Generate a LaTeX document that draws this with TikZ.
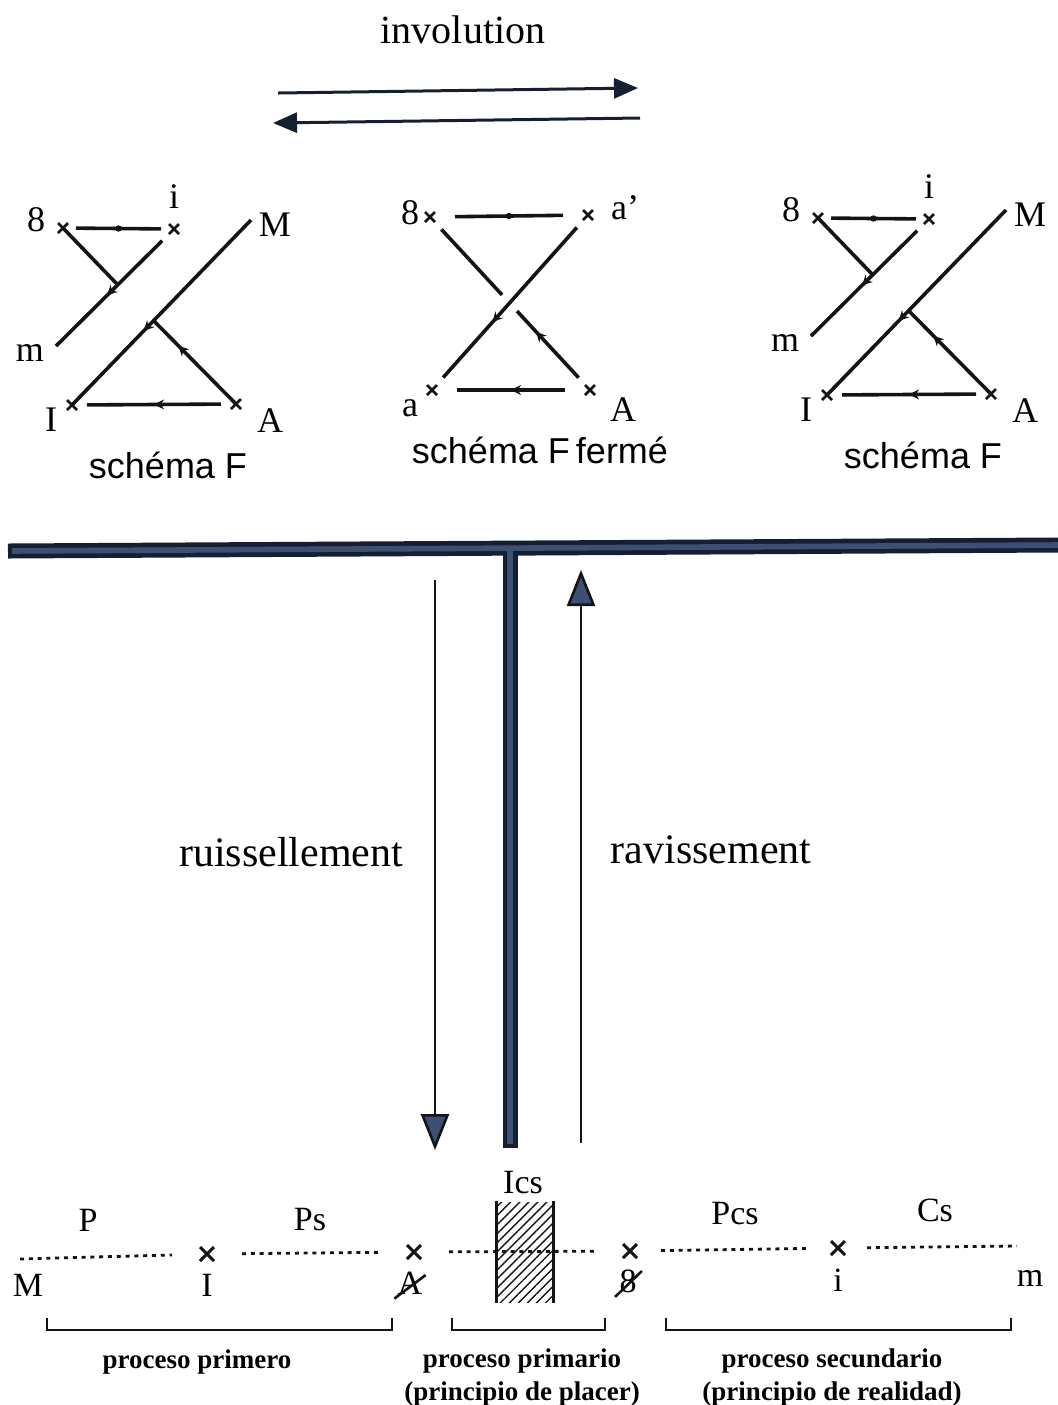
\documentclass[tikz,border=0pt]{standalone}
\usepackage{fontspec}
\setmainfont{Liberation Serif}
\newfontfamily\schemafont{Liberation Sans}
\usetikzlibrary{arrows.meta,positioning,calc,shapes.misc,
                decorations.markings,patterns.meta}
\definecolor{cNavy}{RGB}{22,30,52}
\definecolor{cSlate}{RGB}{62,80,114}
\definecolor{cInk}{RGB}{20,20,24}
\tikzset{
  crs/.style={cross out,draw=cInk,line width=1.3pt,minimum size=5pt,
              inner sep=0pt,outer sep=0pt},
  bigcrs/.style={cross out,draw=cInk,line width=1.5pt,minimum size=7pt,
                 inner sep=0pt,outer sep=0pt},
  lbl/.style={font=\fontsize{18}{20}\selectfont,inner sep=0pt},
  rowlbl/.style={font=\fontsize{17}{19}\selectfont,inner sep=0pt},
  toplbl/.style={font=\fontsize{20}{22}\selectfont,inner sep=0pt},
  flowlbl/.style={font=\fontsize{21}{24}\selectfont,inner sep=0pt},
  schemacap/.style={font=\schemafont\fontsize{18}{20}\selectfont,inner sep=0pt},
  proc/.style={font=\bfseries\fontsize{13.5}{16.5}\selectfont,align=center,
               inner sep=0pt},
  sline/.style={line width=1.8pt,color=cInk},
  gap/.style={shorten <=#1,shorten >=#1},
  gap/.default=4pt,
  midarr/.style={postaction={decorate,decoration={markings,
      mark=at position #1 with {\arrow{Stealth[length=5pt,width=5pt]}}}}},
  midarr/.default=0.5,
  middot/.style={postaction={decorate,decoration={markings,
      mark=at position 0.5 with {\fill (0,0) circle (1.6pt);}}}},
  invarr/.style={-{Triangle[length=12pt,width=10pt]},line width=1.5pt,color=cNavy},
  flowarr/.style={-{Triangle[length=18pt,width=14pt,fill=cSlate]},
                  line width=1.3pt,color=cInk},
  dotline/.style={line width=1.4pt,dash pattern=on 2pt off 2.4pt,color=cInk},
  brk/.style={line width=1.3pt,color=cInk},
  hatchbox/.style={rectangle,minimum width=27.5pt,minimum height=50pt,
                   inner sep=0pt,pattern color=cInk,
                   pattern={Lines[angle=45,distance=3.2pt,line width=0.7pt]}},
  barout/.style={line width=7.5pt,color=cNavy},
  barin/.style={line width=2.8pt,color=cSlate}
}

\begin{document}
\begin{tikzpicture}[x=0.5pt,y=-0.5pt]
  \useasboundingbox (0,0) rectangle (1058,1405);

  % involution arrows
  \node[toplbl] (invlab) at (463,30) {involution};
  \coordinate (fwdA) at (278,93);
  \coordinate (fwdB) at (638,88);
  \coordinate (bckA) at (640,118);
  \coordinate (bckB) at (273,123);
  \draw[invarr] (fwdA) -- (fwdB);
  \draw[invarr] (bckA) -- (bckB);

  % schema F, left and right
  \foreach \sx/\sy/\pre in {63/228/L,818/218/R}{
    \begin{scope}[shift={(\sx,\sy)},name prefix=\pre-]
      \node[crs] (S) at (0,0) {};
      \node[crs] (i) at (111,1) {};
      \node[crs] (I) at (9,177) {};
      \node[crs] (A) at (173,176) {};
      \coordinate (M) at (188,-8);
      \coordinate (m) at (-7,118);
      \coordinate (iend) at ($(m)!0.9!(i)$);
      \coordinate (sx) at ($(m)!0.523!(i)$);
      \coordinate (ax) at ($(M)!0.544!(I)$);
      \draw[sline,middot,gap] (S) -- (i);
      \draw[sline] (S.center) -- (sx);
      \draw[sline,midarr=0.52] (iend) -- (m);
      \draw[sline,midarr=0.6] (M) -- (I.center);
      \draw[sline,midarr=0.7] (A.center) -- (ax);
      \draw[sline,midarr,gap=5pt] (A) -- (I);
      \node[lbl] (Slab) at (-27,-8) {8};
      \node[lbl] (ilab) at (111,-31) {i};
      \node[lbl] (Mlab) at (212,-3) {M};
      \node[lbl] (mlab) at (-33,125) {m};
      \node[lbl] (Ilab) at (-12,192) {I};
      \node[lbl] (Alab) at (207,193) {A};
      \node[schemacap] (capt) at (105,237) {schéma F};
    \end{scope}
  }

  % schema F ferme
  \node[crs] (fS) at (430,217) {};
  \node[crs] (fa2) at (588,215) {};
  \node[crs] (fa) at (432,390) {};
  \node[crs] (fA) at (590,390) {};
  \coordinate (fX) at ($(fS)!0.497!(fA)$);
  \draw[sline,middot,gap=10pt] (fS) -- (fa2);
  \draw[sline,midarr,gap=10pt] (fA) -- (fa);
  \draw[sline,midarr=0.62,gap=5pt] (fa2) -- (fa);
  \draw[sline,shorten <=5pt] (fS) -- ($(fX)!5.5pt!(fS)$);
  \draw[sline,midarr=0.72,shorten <=5pt] (fA) -- ($(fX)!5.5pt!(fA)$);
  \node[lbl] (fSlab) at (410,213) {8};
  \node[lbl] (fa2lab) at (625,208) {a'};
  \node[lbl] (falab) at (410,408) {a};
  \node[lbl] (fAlab) at (623,410) {A};
  \node[schemacap] (fcapt) at (540,450) {schéma F\,fermé};

  % T bar
  \coordinate (barL) at (8,551);
  \coordinate (barR) at (1058,545);
  \coordinate (stemT) at (510,548);
  \coordinate (stemB) at (510,1148);
  \draw[barout] (barL) -- (barR);
  \draw[barout] (stemT) -- (stemB);
  \draw[barin,shorten <=2pt] (barL) -- (barR);
  \draw[barin,shorten >=2pt] (stemT) -- (stemB);

  % ruissellement / ravissement
  \coordinate (downT) at (435,580);
  \coordinate (downB) at (435,1150);
  \coordinate (upB) at (581,1143);
  \coordinate (upT) at (581,570);
  \draw[flowarr] (downT) -- (downB);
  \draw[flowarr] (upB) -- (upT);
  \node[flowlbl] (ruis) at (291,852) {ruissellement};
  \node[flowlbl] (ravi) at (711,850) {ravissement};

  % bottom row
  \node[hatchbox] (ics) at (525,1252) {};
  \coordinate (bM) at (20,1259);
  \coordinate (bm) at (1017,1246);
  \node[bigcrs] (bI) at (207,1254) {};
  \node[bigcrs] (bA) at (414,1252) {};
  \node[bigcrs] (bS) at (630,1251) {};
  \node[bigcrs] (bi) at (838,1248) {};
  \draw[dotline,shorten >=14pt] (bM) -- (bI);
  \draw[dotline,gap=14pt] (bI) -- (bA);
  \draw[dotline,gap=14pt] (bA) -- (bS);
  \draw[dotline,gap=12pt] (bS) -- (bi);
  \draw[dotline,shorten <=11pt] (bi) -- (bm);
  \draw[brk,line width=1.5pt] (ics.north west) -- (ics.south west);
  \draw[brk,line width=1.5pt] (ics.north east) -- (ics.south east);

  \node[rowlbl] (lP) at (88,1220) {P};
  \node[rowlbl] (lPs) at (310,1220) {Ps};
  \node[rowlbl] (lIcs) at (523,1183) {Ics};
  \node[rowlbl] (lPcs) at (735,1214) {Pcs};
  \node[rowlbl] (lCs) at (935,1210) {Cs};
  \node[rowlbl] (lM) at (28,1285) {M};
  \node[rowlbl] (lI) at (207,1285) {I};
  \node[rowlbl] (lA) at (410,1283) {A};
  \node[rowlbl] (lS) at (628,1281) {8};
  \node[rowlbl] (li) at (838,1280) {i};
  \node[rowlbl] (lm) at (1030,1278) {m};
  \draw[brk] ($(lA.south west)+(-3,4)$) -- ($(lA.east)+(3,-8)$);
  \draw[brk] ($(lS.south west)+(-4,4)$) -- ($(lS.east)+(5,-10)$);

  % brackets
  \foreach \xa/\xb in {47/392,452/605,666/1011}{
    \draw[brk] (\xa,1318) -- (\xa,1330) -- (\xb,1330) -- (\xb,1318);
  }
  \node[proc] (pp1) at (197,1362) {proceso primero};
  \node[proc] (pp2) at (522,1377) {proceso primario\\(principio de placer)};
  \node[proc] (pp3) at (832,1377) {proceso secundario\\(principio de realidad)};
\end{tikzpicture}
\end{document}
